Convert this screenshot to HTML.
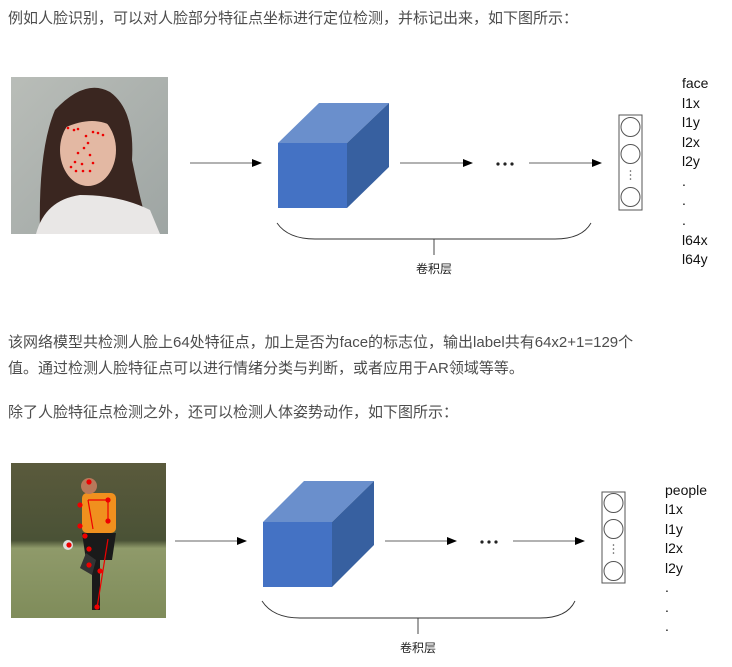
<!DOCTYPE html>
<html><head><meta charset="utf-8"><style>
html,body{margin:0;padding:0;background:#fff;width:732px;height:667px;overflow:hidden}
.t{position:absolute;left:8px;font-family:"Liberation Sans","Noto Sans CJK SC",sans-serif;font-size:15px;color:#4d4d4d;white-space:nowrap}
svg{position:absolute;left:0;top:0}
svg text{font-family:"Liberation Sans","Noto Sans CJK SC",sans-serif}
</style></head><body>
<div class="t" style="top:7px">例如人脸识别，可以对人脸部分特征点坐标进行定位检测，并标记出来，如下图所示：</div>
<div class="t" style="top:331px">该网络模型共检测人脸上64处特征点，加上是否为face的标志位，输出label共有64x2+1=129个</div>
<div class="t" style="top:357px">值。通过检测人脸特征点可以进行情绪分类与判断，或者应用于AR领域等等。</div>
<div class="t" style="top:401px">除了人脸特征点检测之外，还可以检测人体姿势动作，如下图所示：</div>
<svg width="732" height="667" viewBox="0 0 732 667">
<defs>
<marker id="ar" markerWidth="10" markerHeight="8" refX="9" refY="4" orient="auto" markerUnits="userSpaceOnUse"><path d="M0,0 L10,4 L0,8z" fill="#000"/></marker>
<linearGradient id="bg1" x1="0" y1="0" x2="1" y2="1"><stop offset="0" stop-color="#b9bdb8"/><stop offset="1" stop-color="#9ea5a3"/></linearGradient>
<linearGradient id="bg2" x1="0" y1="0" x2="0" y2="1"><stop offset="0" stop-color="#5a5a3c"/><stop offset="0.5" stop-color="#4a5236"/><stop offset="0.55" stop-color="#8f9a6a"/><stop offset="1" stop-color="#7f8c5a"/></linearGradient>
</defs>
<!-- photo 1 -->
<rect x="11" y="77" width="157" height="157" fill="url(#bg1)"/>
<path d="M40,234 Q38,150 55,110 Q85,78 110,92 Q135,110 132,160 Q140,200 150,234z" fill="#3a2620"/>
<path d="M36,234 Q45,200 80,195 Q120,195 150,210 L160,234z" fill="#e9e7e6"/>
<ellipse cx="88" cy="150" rx="28" ry="36" fill="#e3b8a3"/>
<path d="M60,130 Q75,100 110,110 L118,130 Q95,112 60,130z" fill="#3a2620"/>
<g fill="#e00">
<circle cx="68" cy="128" r="1.3"/><circle cx="74" cy="130" r="1.3"/><circle cx="78" cy="129" r="1.3"/><circle cx="93" cy="132" r="1.3"/><circle cx="98" cy="133" r="1.3"/><circle cx="103" cy="135" r="1.3"/>
<circle cx="86" cy="136" r="1.3"/><circle cx="88" cy="143" r="1.3"/><circle cx="84" cy="148" r="1.3"/><circle cx="78" cy="153" r="1.3"/><circle cx="90" cy="155" r="1.3"/><circle cx="75" cy="162" r="1.3"/><circle cx="82" cy="164" r="1.3"/><circle cx="93" cy="163" r="1.3"/><circle cx="71" cy="167" r="1.3"/><circle cx="76" cy="171" r="1.3"/><circle cx="83" cy="171" r="1.3"/><circle cx="90" cy="171" r="1.3"/>
</g>
<!-- diagram 1 -->
<g stroke="#333" stroke-width="0.8">
<line x1="190" y1="163" x2="261" y2="163" marker-end="url(#ar)"/>
<line x1="400" y1="163" x2="472" y2="163" marker-end="url(#ar)"/>
<line x1="529" y1="163" x2="601" y2="163" marker-end="url(#ar)"/>
</g>
<polygon points="278,143 319,103 389,103 347,143" fill="#6a8fcc"/>
<polygon points="347,143 389,103 389,167 347,208" fill="#3760a0"/>
<rect x="278" y="143" width="69" height="65" fill="#4472c4"/>
<g fill="#222"><circle cx="498" cy="164" r="1.6"/><circle cx="505" cy="164" r="1.6"/><circle cx="512" cy="164" r="1.6"/></g>
<rect x="619" y="115" width="23" height="95" fill="#fff" stroke="#555" stroke-width="1"/>
<g fill="none" stroke="#555"><circle cx="630.5" cy="127" r="9.5"/><circle cx="630.5" cy="154" r="9.5"/><circle cx="630.5" cy="197" r="9.5"/></g>
<g fill="#555"><circle cx="630.5" cy="171" r="0.8"/><circle cx="630.5" cy="175" r="0.8"/><circle cx="630.5" cy="179" r="0.8"/></g>
<path d="M277,223 Q288,239 315,239 L555,239 Q582,239 591,223" fill="none" stroke="#333" stroke-width="0.9"/>
<line x1="434" y1="239" x2="434" y2="255" stroke="#333" stroke-width="0.9"/>
<text x="416" y="273" font-size="12" fill="#222">卷积层</text>
<g font-size="14" fill="#111">
<text x="682" y="88">face</text><text x="682" y="108">l1x</text><text x="682" y="127">l1y</text><text x="682" y="147">l2x</text><text x="682" y="166">l2y</text><text x="682" y="186">.</text><text x="682" y="205">.</text><text x="682" y="225">.</text><text x="682" y="245">l64x</text><text x="682" y="264">l64y</text>
</g>
<!-- photo 2 -->
<rect x="11" y="463" width="155" height="155" fill="url(#bg2)"/>
<rect x="82" y="493" width="34" height="40" rx="5" fill="#f0901e"/>
<circle cx="89" cy="486" r="8" fill="#b8785a"/>
<path d="M82,533 L116,533 L112,560 L86,560z" fill="#1a1a1a"/>
<rect x="92" y="558" width="8" height="52" fill="#1a1a1a"/>
<path d="M86,553 L80,568 L92,575 L96,560z" fill="#333"/>
<circle cx="68" cy="545" r="5" fill="#ddd"/>
<g stroke="#e00" stroke-width="1.2" fill="#e00">
<line x1="88" y1="500" x2="108" y2="500"/><line x1="88" y1="500" x2="93" y2="529"/><line x1="108" y1="500" x2="108" y2="521"/><line x1="108" y1="539" x2="97" y2="608"/>
<circle cx="89" cy="482" r="2"/><circle cx="80" cy="505" r="2"/><circle cx="108" cy="500" r="2"/><circle cx="80" cy="526" r="2"/><circle cx="108" cy="521" r="2"/><circle cx="69" cy="545" r="2"/><circle cx="85" cy="536" r="2"/><circle cx="89" cy="549" r="2"/><circle cx="89" cy="565" r="2"/><circle cx="100" cy="571" r="2"/><circle cx="97" cy="607" r="2"/>
</g>
<!-- diagram 2 -->
<g stroke="#333" stroke-width="0.8">
<line x1="175" y1="541" x2="246" y2="541" marker-end="url(#ar)"/>
<line x1="385" y1="541" x2="456" y2="541" marker-end="url(#ar)"/>
<line x1="513" y1="541" x2="584" y2="541" marker-end="url(#ar)"/>
</g>
<polygon points="263,522 304,481 374,481 332,522" fill="#6a8fcc"/>
<polygon points="332,522 374,481 374,545 332,587" fill="#3760a0"/>
<rect x="263" y="522" width="69" height="65" fill="#4472c4"/>
<g fill="#222"><circle cx="482" cy="542" r="1.6"/><circle cx="489" cy="542" r="1.6"/><circle cx="496" cy="542" r="1.6"/></g>
<rect x="602" y="492" width="23" height="91" fill="#fff" stroke="#555" stroke-width="1"/>
<g fill="none" stroke="#555"><circle cx="613.5" cy="503" r="9.5"/><circle cx="613.5" cy="529" r="9.5"/><circle cx="613.5" cy="571" r="9.5"/></g>
<g fill="#555"><circle cx="613.5" cy="545" r="0.8"/><circle cx="613.5" cy="549" r="0.8"/><circle cx="613.5" cy="553" r="0.8"/></g>
<path d="M262,601 Q273,618 300,618 L540,618 Q567,618 575,601" fill="none" stroke="#333" stroke-width="0.9"/>
<line x1="418" y1="618" x2="418" y2="634" stroke="#333" stroke-width="0.9"/>
<text x="400" y="652" font-size="12" fill="#222">卷积层</text>
<g font-size="14" fill="#111">
<text x="665" y="495">people</text><text x="665" y="514">l1x</text><text x="665" y="534">l1y</text><text x="665" y="553">l2x</text><text x="665" y="573">l2y</text><text x="665" y="592">.</text><text x="665" y="612">.</text><text x="665" y="631">.</text>
</g>
</svg>
</body></html>
